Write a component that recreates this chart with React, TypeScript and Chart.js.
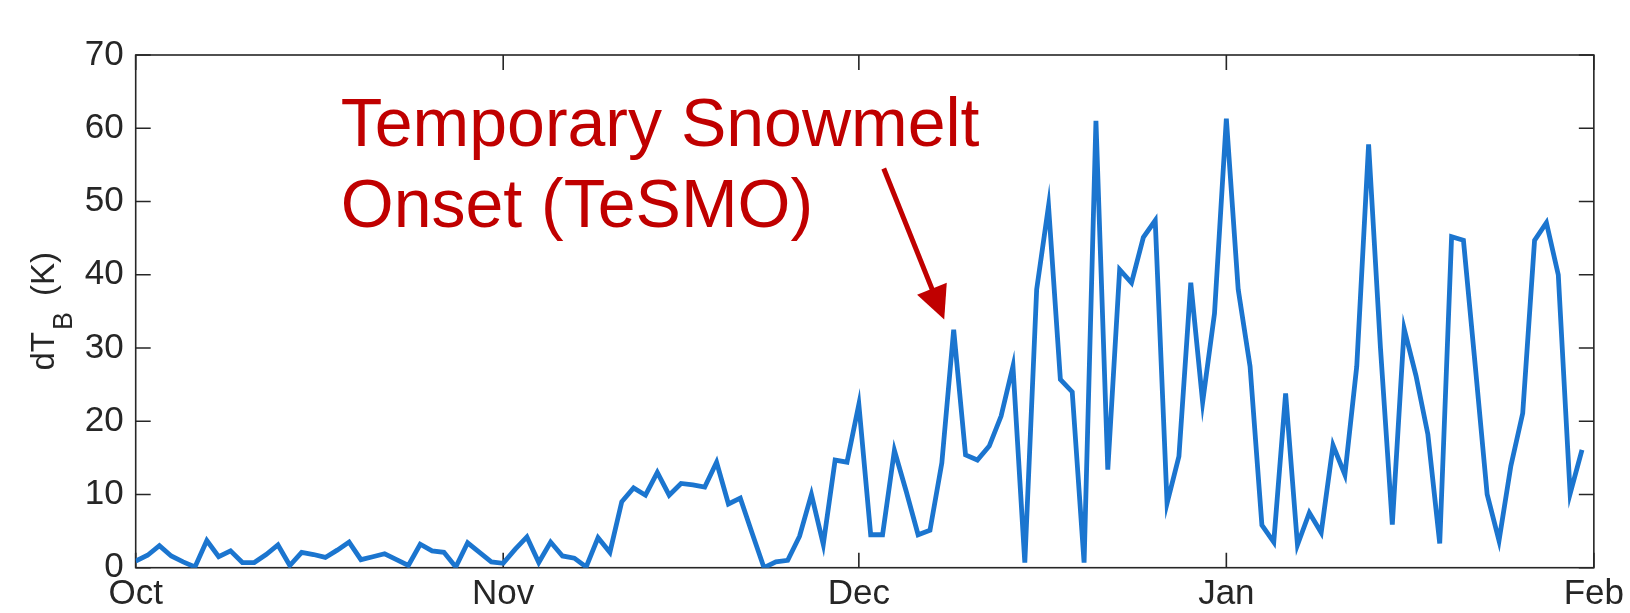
import React, { useEffect, useRef } from 'react';
import { Chart, registerables } from 'chart.js';

Chart.register(...registerables);

// Days since Oct 1 for each month tick, and their labels
const tickDays = [0, 31, 61, 92, 123];
const tickLabels = ['Oct', 'Nov', 'Dec', 'Jan', 'Feb'];
const yTicks = [0, 10, 20, 30, 40, 50, 60, 70];

// Daily dT_B (K), Oct 1 .. Jan 31
const dTB = [
  0.9, 1.7, 3.0, 1.6, 0.8, 0.1, 3.7, 1.5, 2.3, 0.7,
  0.7, 1.8, 3.1, 0.3, 2.1, 1.8, 1.4, 2.4, 3.5, 1.1,
  1.5, 1.9, 1.1, 0.3, 3.2, 2.3, 2.1, 0.1, 3.4, 2.1,
  0.8, 0.6, 2.5, 4.2, 0.7, 3.5, 1.6, 1.3, 0.1, 4.1,
  2.1, 9.0, 10.9, 9.9, 13.0, 9.9, 11.5, 11.3, 11.0, 14.4,
  8.7, 9.5, 4.7, 0.0, 0.8, 1.0, 4.3, 10.0, 3.2, 14.7,
  14.4, 22.3, 4.5, 4.5, 16.0, 10.4, 4.5, 5.1, 14.3, 32.5,
  15.4, 14.7, 16.6, 20.7, 27.5, 0.7, 38.0, 49.4, 25.7, 24.0,
  0.7, 61.0, 13.4, 40.7, 38.9, 45.1, 47.4, 8.8, 15.2, 38.9,
  22.6, 34.7, 61.3, 38.0, 27.5, 5.8, 3.5, 23.8, 3.1, 7.5,
  4.8, 16.7, 12.7, 27.5, 57.8, 30.0, 5.9, 32.6, 26.2, 18.2,
  3.3, 45.2, 44.7, 27.5, 10.0, 3.7, 13.9, 21.1, 44.7, 47.1,
  40.0, 10.1, 16.1,
];

const annotationLines = ['Temporary Snowmelt', 'Onset (TeSMO)'];
// annotation anchors in data units (day, K)
const annotationText = { x: 17.3, y1: 57.6, y2: 46.5 };
const arrowFrom = { x: 63.1, y: 54.5 };
const arrowTo = { x: 68.2, y: 33.9 };

const AXIS = '#262626';
const RED = '#C00000';
const BLUE = '#1b75cf';
const FONT = '"Liberation Sans", Arial, Helvetica, sans-serif';

const framePlugin = {
  id: 'matlabFrame',
  beforeDatasetsDraw(chart: any) {
    const { ctx, chartArea: a, scales } = chart;
    const x = scales.x;
    const y = scales.y;
    ctx.save();
    ctx.strokeStyle = AXIS;
    ctx.lineWidth = 1.6;
    ctx.strokeRect(a.left, a.top, a.right - a.left, a.bottom - a.top);
    ctx.beginPath();
    const tl = 15;
    for (const v of yTicks) {
      const py = y.getPixelForValue(v);
      ctx.moveTo(a.left, py);
      ctx.lineTo(a.left + tl, py);
      ctx.moveTo(a.right, py);
      ctx.lineTo(a.right - tl, py);
    }
    for (const d of tickDays) {
      const px = x.getPixelForValue(d);
      ctx.moveTo(px, a.bottom);
      ctx.lineTo(px, a.bottom - tl);
      ctx.moveTo(px, a.top);
      ctx.lineTo(px, a.top + tl);
    }
    ctx.stroke();
    ctx.restore();
  },
  afterDraw(chart: any) {
    const { ctx, chartArea: a, scales } = chart;
    const x = scales.x;
    const y = scales.y;

    // y-axis title: dT_B (K)
    ctx.save();
    ctx.fillStyle = AXIS;
    ctx.textAlign = 'left';
    ctx.textBaseline = 'alphabetic';
    const cy = (a.top + a.bottom) / 2;
    ctx.font = `33px ${FONT}`;
    const w1 = ctx.measureText('dT').width;
    ctx.font = `27px ${FONT}`;
    const w2 = ctx.measureText('B').width;
    ctx.font = `33px ${FONT}`;
    const w3 = ctx.measureText('(K)').width;
    const gap = 16;
    const total = w1 + 2 + w2 + gap + w3;
    ctx.translate(53.5, cy + total / 2);
    ctx.rotate(-Math.PI / 2);
    ctx.fillText('dT', 0, 0);
    ctx.font = `27px ${FONT}`;
    ctx.fillText('B', w1 + 2, 18);
    ctx.font = `33px ${FONT}`;
    ctx.fillText('(K)', w1 + 2 + w2 + gap, 0);
    ctx.restore();

    // annotation text
    ctx.save();
    ctx.fillStyle = RED;
    ctx.font = `68px ${FONT}`;
    ctx.textAlign = 'left';
    ctx.textBaseline = 'alphabetic';
    const tx = x.getPixelForValue(annotationText.x);
    ctx.fillText(annotationLines[0], tx, y.getPixelForValue(annotationText.y1));
    ctx.fillText(annotationLines[1], tx, y.getPixelForValue(annotationText.y2));

    // arrow
    const x0 = x.getPixelForValue(arrowFrom.x);
    const y0 = y.getPixelForValue(arrowFrom.y);
    const x1 = x.getPixelForValue(arrowTo.x);
    const y1 = y.getPixelForValue(arrowTo.y);
    const dx = x1 - x0;
    const dy = y1 - y0;
    const len = Math.hypot(dx, dy);
    const ux = dx / len;
    const uy = dy / len;
    const headLen = 33;
    const headHalf = 16;
    const bx = x1 - ux * headLen;
    const by = y1 - uy * headLen;
    ctx.strokeStyle = RED;
    ctx.lineWidth = 5;
    ctx.lineCap = 'butt';
    ctx.beginPath();
    ctx.moveTo(x0, y0);
    ctx.lineTo(bx + ux * 2, by + uy * 2);
    ctx.stroke();
    ctx.beginPath();
    ctx.moveTo(x1, y1);
    ctx.lineTo(bx - uy * headHalf, by + ux * headHalf);
    ctx.lineTo(bx + uy * headHalf, by - ux * headHalf);
    ctx.closePath();
    ctx.fill();
    ctx.restore();
  },
};

export default function App() {
  const canvasRef = useRef<HTMLCanvasElement | null>(null);

  useEffect(() => {
    document.body.style.margin = '0';
    const canvas = canvasRef.current;
    if (!canvas) return;
    const chart = new Chart(canvas, {
      type: 'line',
      data: {
        datasets: [
          {
            data: dTB.map((v, i) => ({ x: i, y: v })),
            borderColor: BLUE,
            backgroundColor: BLUE,
            borderWidth: 4.8,
            pointRadius: 0,
            tension: 0,
            fill: false,
            borderJoinStyle: 'miter',
          },
        ],
      },
      options: {
        animation: false,
        responsive: false,
        devicePixelRatio: 1,
        layout: { padding: { top: 55, right: 32.5, left: 0, bottom: 0 } },
        plugins: {
          legend: { display: false },
          tooltip: { enabled: false },
          title: { display: false },
        },
        scales: {
          x: {
            type: 'linear',
            min: 0,
            max: 123,
            afterBuildTicks: (s: any) => {
              s.ticks = tickDays.map((v) => ({ value: v }));
            },
            afterFit: (s: any) => {
              s.height = 45.3;
            },
            grid: { display: false, drawTicks: false },
            border: { display: false },
            ticks: {
              autoSkip: false,
              maxRotation: 0,
              padding: 6,
              color: AXIS,
              font: { family: FONT, size: 35 },
              callback: (v: any) => tickLabels[tickDays.indexOf(Number(v))] ?? '',
            },
          },
          y: {
            type: 'linear',
            min: 0,
            max: 70,
            afterBuildTicks: (s: any) => {
              s.ticks = yTicks.map((v) => ({ value: v }));
            },
            afterFit: (s: any) => {
              s.width = 135.7;
            },
            grid: { display: false, drawTicks: false },
            border: { display: false },
            ticks: {
              padding: 12,
              color: AXIS,
              font: { family: FONT, size: 35 },
            },
          },
        },
      },
      plugins: [framePlugin],
    });
    return () => chart.destroy();
  }, []);

  return (
    <div style={{ width: 1630, height: 613 }}>
      <canvas ref={canvasRef} width={1630} height={613} style={{ display: 'block' }} />
    </div>
  );
}
